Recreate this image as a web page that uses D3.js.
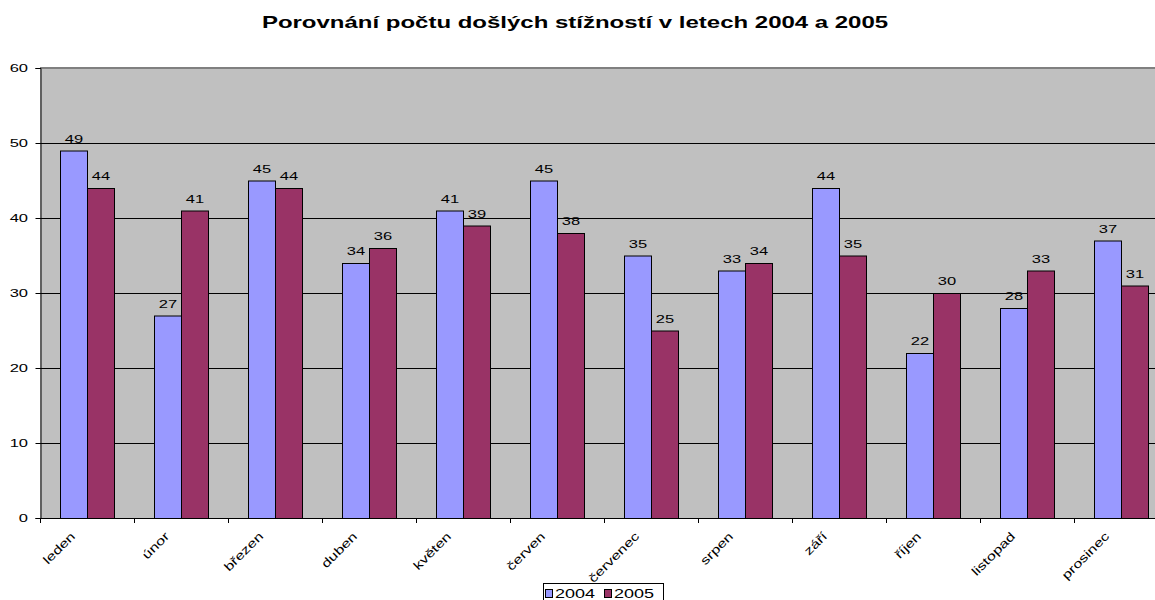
<!DOCTYPE html>
<html>
<head>
<meta charset="utf-8">
<script src="https://cdn.jsdelivr.net/npm/d3@7"></script>
<style>
  body { margin: 0; background: #fff; }
  text { font-family: "Liberation Sans", Arial, sans-serif; fill: #000; }
</style>
</head>
<body>
<script>
// data
const months = ["leden", "únor", "březen", "duben", "květen", "červen",
  "červenec", "srpen", "září", "říjen", "listopad", "prosinec"];
const y2004 = [49, 27, 45, 34, 41, 45, 35, 33, 44, 22, 28, 37];
const y2005 = [44, 41, 44, 36, 39, 38, 25, 34, 35, 30, 33, 31];
const seriesNames = ["2004", "2005"];
const yTicks = [0, 10, 20, 30, 40, 50, 60];

const colors = ["#9999ff", "#993366"];

let width = 1155,
    height = 600;

// the source picture has its text stretched sideways
let stretch = 1.5;

let svg = d3.select("body")
  .append("svg")
  .attr("width", width)
  .attr("height", height);

let plotLeft = 40, plotTop = 68, plotBottom = 518;
let band = 94;

let x = d3.scaleBand()
  .domain(months)
  .range([plotLeft, plotLeft + band * months.length])
  .paddingInner(0)
  .paddingOuter(0);

let y = d3.scaleLinear()
  .domain([0, 60])
  .range([plotBottom, plotTop]);

let barW = x.bandwidth() * 27 / 94;
let gap = (x.bandwidth() - 2 * barW) / 2;

// title
svg.append("text")
  .attr("transform", `translate(575,28) scale(${stretch},1)`)
  .attr("text-anchor", "middle")
  .style("font-size", "16px")
  .style("font-weight", "bold")
  .text("Porovnání počtu došlých stížností v letech 2004 a 2005");

// plot background
svg.append("rect")
  .attr("x", plotLeft)
  .attr("y", plotTop)
  .attr("width", width - plotLeft)
  .attr("height", plotBottom - plotTop)
  .attr("fill", "#c0c0c0");

// gridlines
svg.append("g")
  .selectAll("line")
  .data(yTicks.slice(1, -1))
  .join("line")
  .attr("x1", plotLeft)
  .attr("x2", width)
  .attr("y1", d => y(d) + 0.5)
  .attr("y2", d => y(d) + 0.5)
  .attr("stroke", "#000")
  .attr("stroke-width", 1);

// top border
svg.append("line")
  .attr("x1", plotLeft).attr("x2", width)
  .attr("y1", plotTop).attr("y2", plotTop)
  .attr("stroke", "#808080")
  .attr("stroke-width", 2);

// bars
let groups = svg.append("g")
  .selectAll("g")
  .data(months)
  .join("g")
  .attr("transform", d => `translate(${x(d)},0)`);

[y2004, y2005].forEach((vals, s) => {
  groups.append("rect")
    .attr("x", gap + s * barW + 0.5)
    .attr("y", (d, i) => y(vals[i]) + 0.5)
    .attr("width", barW)
    .attr("height", (d, i) => plotBottom - y(vals[i]))
    .attr("fill", colors[s])
    .attr("stroke", "#000")
    .attr("stroke-width", 1);

  groups.append("text")
    .attr("transform", (d, i) =>
      `translate(${gap + s * barW + barW / 2 + 0.5},${y(vals[i]) - 8}) scale(${stretch},1)`)
    .attr("text-anchor", "middle")
    .style("font-size", "11px")
    .text((d, i) => vals[i]);
});

// y axis
let yAxis = svg.append("g")
  .attr("transform", `translate(${plotLeft + 0.5},0)`)
  .call(d3.axisLeft(y).tickValues(yTicks).tickSize(5).tickFormat(""));
yAxis.select(".domain").attr("stroke", "#000");

svg.append("g")
  .selectAll("text")
  .data(yTicks)
  .join("text")
  .attr("transform", d => `translate(28,${y(d) + 4}) scale(${stretch},1)`)
  .attr("text-anchor", "end")
  .style("font-size", "11px")
  .text(d => d);

// x axis
svg.append("line")
  .attr("x1", plotLeft).attr("x2", width)
  .attr("y1", plotBottom + 0.5).attr("y2", plotBottom + 0.5)
  .attr("stroke", "#000");

svg.append("g")
  .selectAll("line")
  .data(d3.range(months.length + 1))
  .join("line")
  .attr("x1", d => plotLeft + d * band + 0.5)
  .attr("x2", d => plotLeft + d * band + 0.5)
  .attr("y1", plotBottom)
  .attr("y2", plotBottom + 5)
  .attr("stroke", "#000");

svg.append("g")
  .selectAll("text")
  .data(months)
  .join("text")
  .attr("transform", d =>
    `translate(${x(d) + x.bandwidth() / 2 - 11},${plotBottom + 19}) rotate(-45) scale(1.35,1)`)
  .attr("text-anchor", "end")
  .style("font-size", "12px")
  .text(d => d);

// legend
let legend = svg.append("g").attr("transform", "translate(543,583)");
legend.append("rect")
  .attr("x", 0.5).attr("y", 0.5)
  .attr("width", 120).attr("height", 20)
  .attr("fill", "#fff")
  .attr("stroke", "#000");

seriesNames.forEach((name, s) => {
  let g = legend.append("g").attr("transform", `translate(${2 + s * 59},0)`);
  g.append("rect")
    .attr("x", 0.5).attr("y", 6.5)
    .attr("width", 7).attr("height", 8)
    .attr("fill", colors[s])
    .attr("stroke", "#000");
  g.append("text")
    .attr("transform", `translate(10,15) scale(${stretch},1)`)
    .style("font-size", "12px")
    .text(name);
});
</script>
</body>
</html>
